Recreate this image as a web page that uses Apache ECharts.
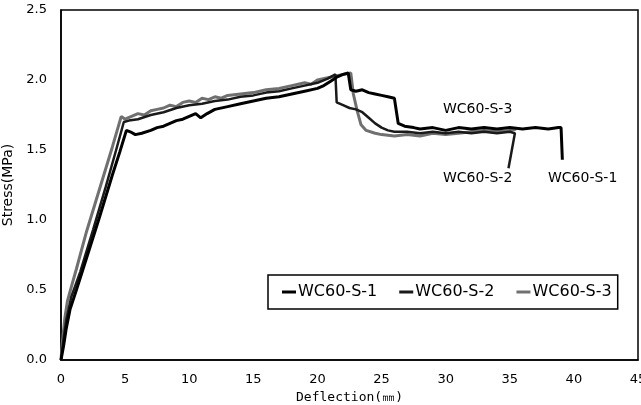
<!DOCTYPE html>
<html><head><meta charset="utf-8">
<script src="https://cdn.jsdelivr.net/npm/echarts@6/dist/echarts.min.js"></script>
<style>html,body{margin:0;padding:0;background:#fff}#c{width:641px;height:405px}</style>
</head><body><div id="c"></div>
<script>
const seriesNames = ['WC60-S-1', 'WC60-S-2', 'WC60-S-3'];
const xTicks = [0, 5, 10, 15, 20, 25, 30, 35, 40, 45];
const yTicks = [0.0, 0.5, 1.0, 1.5, 2.0, 2.5];

const s1x = [0,0.2,0.4,0.7,1.2,2,3,4,4.6,5.1,5.4,5.8,6.3,7,7.5,8,8.5,9,9.5,10,10.5,10.9,11.4,12,13,14,15,16,17,18,19,20,20.5,21,21.5,22,22.4,22.6,23,23.5,24,24.5,25,25.5,26,26.3,26.8,27.5,28,29,30,31,32,33,34,35,36,37,38,38.8,39.0,39.1];
const s1y = [0,0.1,0.22,0.36,0.5,0.73,1.02,1.32,1.49,1.64,1.63,1.61,1.62,1.64,1.66,1.67,1.69,1.71,1.72,1.74,1.76,1.73,1.76,1.79,1.81,1.83,1.85,1.87,1.88,1.9,1.92,1.94,1.96,1.99,2.02,2.04,2.05,1.93,1.92,1.93,1.91,1.9,1.89,1.88,1.87,1.69,1.67,1.66,1.65,1.66,1.64,1.66,1.65,1.66,1.65,1.66,1.65,1.66,1.65,1.66,1.66,1.43];

const s2x = [0,0.2,0.4,0.8,1.5,2.5,3.5,4.3,4.9,5.3,6,7,8,9,10,11,12,13,14,15,16,17,18,19,20,20.8,21.4,21.5,22,22.5,23,23.5,24,24.5,25,25.5,26,27,28,29,30,31,32,33,34,35,35.4,34.9];
const s2y = [0,0.15,0.28,0.45,0.63,0.93,1.24,1.5,1.7,1.71,1.72,1.75,1.77,1.8,1.82,1.83,1.85,1.86,1.88,1.89,1.91,1.92,1.94,1.96,1.98,2.01,2.04,1.84,1.82,1.8,1.79,1.77,1.73,1.69,1.66,1.64,1.63,1.63,1.62,1.63,1.62,1.63,1.62,1.63,1.62,1.63,1.62,1.37];

const s3x = [0,0.1,0.3,0.5,0.8,1.2,2,3,4,4.7,5,5.5,6,6.5,7,7.5,8,8.5,9,9.5,10,10.5,11,11.5,12,12.5,13,14,15,16,17,18,19,19.5,20,21,22,22.6,22.8,23.1,23.4,23.8,24.5,25,26,27,28,29,30,31,32,33,34,35,35.5];
const s3y = [0,0.12,0.3,0.42,0.52,0.65,0.92,1.22,1.52,1.74,1.72,1.74,1.76,1.75,1.78,1.79,1.8,1.82,1.81,1.84,1.85,1.84,1.87,1.86,1.88,1.87,1.89,1.9,1.91,1.93,1.94,1.96,1.98,1.97,2.0,2.02,2.04,2.05,1.9,1.78,1.68,1.64,1.62,1.61,1.6,1.61,1.6,1.62,1.61,1.62,1.63,1.64,1.63,1.64,1.65];

const zip = (xs, ys) => xs.map((x, i) => [x, ys[i]]);
const colors = ['#000000', '#1a1a1a', '#707070'];
const widths = [3, 2.5, 3];
const datasets = [zip(s1x, s1y), zip(s2x, s2y), zip(s3x, s3y)];

const font = '"DejaVu Sans", sans-serif';
const chart = echarts.init(document.getElementById('c'), null, {renderer: 'canvas'});
chart.setOption({
  animation: false,
  backgroundColor: '#fff',
  grid: {left: 61, right: 3, top: 10, bottom: 45, outerBoundsMode: 'none', containLabel: false,
    show: true, borderColor: '#000', borderWidth: 1.5, backgroundColor: 'transparent'},
  xAxis: {
    type: 'value', min: xTicks[0], max: xTicks[xTicks.length - 1], interval: 5,
    name: 'Deflection(㎜)', nameLocation: 'middle', nameGap: 30,
    nameTextStyle: {fontFamily: '"DejaVu Sans Mono", monospace', fontSize: 13, color: '#000'},
    axisLine: {show: true, lineStyle: {color: '#000', width: 1.5}},
    axisTick: {show: false},
    splitLine: {show: false},
    axisLabel: {color: '#000', fontFamily: font, fontSize: 13, margin: 13,
      formatter: v => xTicks.includes(v) ? String(v) : ''}
  },
  yAxis: {
    type: 'value', min: yTicks[0], max: yTicks[yTicks.length - 1], interval: 0.5,
    name: 'Stress(MPa)', nameLocation: 'middle', nameGap: 39, nameRotate: 90,
    nameTextStyle: {fontFamily: font, fontSize: 14, color: '#000'},
    axisLine: {show: true, lineStyle: {color: '#000', width: 1.5}},
    axisTick: {show: false},
    splitLine: {show: false},
    axisLabel: {color: '#000', fontFamily: font, fontSize: 13, margin: 14,
      formatter: v => v.toFixed(1)}
  },
  legend: {
    data: seriesNames,
    left: 268, top: 275,
    padding: [9, 6, 9, 14],
    borderColor: '#000', borderWidth: 1.5,
    itemGap: 22, itemWidth: 14, itemHeight: 3, icon: 'rect',
    textStyle: {fontFamily: font, fontSize: 16, color: '#000', padding: [0, 0, 0, -3]}
  },
  series: seriesNames.map((n, i) => ({
    name: n, type: 'line', data: datasets[i], showSymbol: false, symbol: 'none',
    lineStyle: {color: colors[i], width: widths[i]}, itemStyle: {color: colors[i]},
    z: 3 - i
  })),
  graphic: [
    {type: 'text', left: 443, top: 102, style: {text: 'WC60-S-3', font: '14px "DejaVu Sans"', fill: '#000'}},
    {type: 'text', left: 443, top: 171, style: {text: 'WC60-S-2', font: '14px "DejaVu Sans"', fill: '#000'}},
    {type: 'text', left: 548, top: 171, style: {text: 'WC60-S-1', font: '14px "DejaVu Sans"', fill: '#000'}}
  ]
});
</script></body></html>
